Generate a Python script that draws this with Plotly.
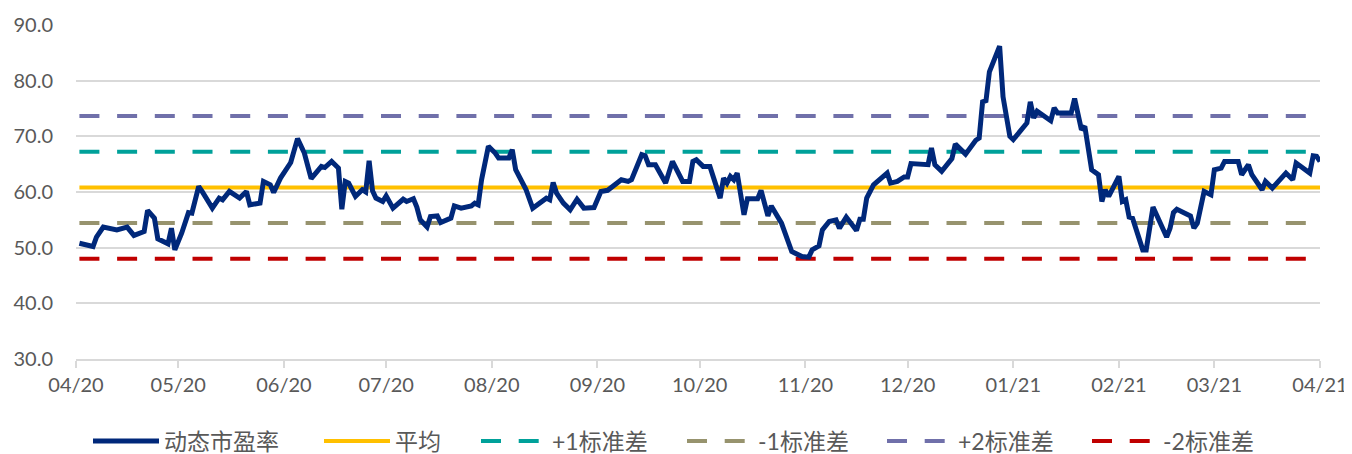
import plotly.graph_objects as go

# 动态市盈率 (dynamic P/E)
dates = [
    "2020-04-02", "2020-04-06", "2020-04-07", "2020-04-09", "2020-04-13", "2020-04-16",
    "2020-04-18", "2020-04-21", "2020-04-22", "2020-04-24", "2020-04-25", "2020-04-28",
    "2020-04-29", "2020-04-30", "2020-05-02", "2020-05-04", "2020-05-05", "2020-05-07",
    "2020-05-08", "2020-05-11", "2020-05-13", "2020-05-14", "2020-05-16", "2020-05-19",
    "2020-05-21", "2020-05-22", "2020-05-25", "2020-05-26", "2020-05-28", "2020-05-29",
    "2020-05-31", "2020-06-02", "2020-06-03", "2020-06-05", "2020-06-07", "2020-06-09",
    "2020-06-12", "2020-06-13", "2020-06-15", "2020-06-17", "2020-06-18", "2020-06-19",
    "2020-06-20", "2020-06-22", "2020-06-24", "2020-06-25", "2020-06-26", "2020-06-27",
    "2020-06-28", "2020-06-30", "2020-07-01", "2020-07-03", "2020-07-04", "2020-07-06",
    "2020-07-07", "2020-07-09", "2020-07-10", "2020-07-11", "2020-07-13", "2020-07-14",
    "2020-07-16", "2020-07-17", "2020-07-20", "2020-07-21", "2020-07-23", "2020-07-26",
    "2020-07-27", "2020-07-28", "2020-07-29", "2020-07-31", "2020-08-02", "2020-08-03",
    "2020-08-06", "2020-08-07", "2020-08-08", "2020-08-09", "2020-08-11", "2020-08-13",
    "2020-08-17", "2020-08-18", "2020-08-19", "2020-08-20", "2020-08-22", "2020-08-24",
    "2020-08-26", "2020-08-28", "2020-08-31", "2020-09-02", "2020-09-04", "2020-09-08",
    "2020-09-10", "2020-09-11", "2020-09-14", "2020-09-15", "2020-09-16", "2020-09-18",
    "2020-09-21", "2020-09-23", "2020-09-26", "2020-09-28", "2020-09-29", "2020-09-30",
    "2020-10-02", "2020-10-04", "2020-10-05", "2020-10-07", "2020-10-08", "2020-10-09",
    "2020-10-10", "2020-10-11", "2020-10-12", "2020-10-14", "2020-10-15", "2020-10-18",
    "2020-10-19", "2020-10-21", "2020-10-22", "2020-10-25", "2020-10-28", "2020-10-31",
    "2020-11-02", "2020-11-03", "2020-11-05", "2020-11-06", "2020-11-08", "2020-11-10",
    "2020-11-11", "2020-11-13", "2020-11-16", "2020-11-17", "2020-11-18", "2020-11-19",
    "2020-11-21", "2020-11-25", "2020-11-26", "2020-11-28", "2020-11-30", "2020-12-01",
    "2020-12-02", "2020-12-07", "2020-12-08", "2020-12-09", "2020-12-11", "2020-12-14",
    "2020-12-15", "2020-12-18", "2020-12-21", "2020-12-22", "2020-12-23", "2020-12-24",
    "2020-12-25", "2020-12-28", "2020-12-29", "2020-12-31", "2021-01-01", "2021-01-04",
    "2021-01-05", "2021-01-06", "2021-01-07", "2021-01-08", "2021-01-12", "2021-01-13",
    "2021-01-14", "2021-01-18", "2021-01-19", "2021-01-21", "2021-01-22", "2021-01-24",
    "2021-01-26", "2021-01-27", "2021-01-28", "2021-01-29", "2021-02-01", "2021-02-02",
    "2021-02-03", "2021-02-04", "2021-02-05", "2021-02-08", "2021-02-09", "2021-02-11",
    "2021-02-15", "2021-02-16", "2021-02-17", "2021-02-18", "2021-02-22", "2021-02-23",
    "2021-02-24", "2021-02-26", "2021-02-28", "2021-03-01", "2021-03-03", "2021-03-04",
    "2021-03-08", "2021-03-09", "2021-03-11", "2021-03-12", "2021-03-15", "2021-03-16",
    "2021-03-18", "2021-03-22", "2021-03-24", "2021-03-25", "2021-03-29", "2021-03-30",
    "2021-03-31", "2021-04-01",
]
pe = [
    50.8, 50.2, 51.9, 53.7, 53.2, 53.7,
    52.2, 52.9, 56.7, 55.3, 51.6, 50.7,
    53.5, 49.6, 52.6, 56.3, 56.2, 61.0,
    60.1, 57.1, 58.9, 58.6, 60.1, 58.9,
    60.1, 57.7, 58.0, 61.9, 61.3, 59.9,
    62.5, 64.6, 65.3, 69.6, 67.0, 62.4,
    64.6, 64.4, 65.5, 64.3, 56.9, 61.9,
    61.6, 59.2, 60.4, 60.0, 65.6, 60.2,
    58.9, 58.3, 59.3, 57.1, 57.7, 58.7,
    58.3, 58.8, 57.3, 55.0, 53.7, 55.6,
    55.7, 54.5, 55.3, 57.5, 57.1, 57.5,
    58.0, 57.7, 62.2, 68.2, 67.0, 66.1,
    66.1, 67.6, 64.0, 62.8, 60.5, 57.1,
    58.9, 58.6, 61.7, 59.8, 58.0, 56.8,
    58.7, 57.1, 57.2, 60.1, 60.3, 62.2,
    61.9, 62.2, 66.7, 66.5, 64.9, 64.9,
    61.6, 65.5, 61.9, 61.9, 65.5, 65.8,
    64.6, 64.6, 62.5, 58.9, 62.5, 61.6,
    62.8, 62.2, 63.4, 55.9, 58.8, 58.8,
    60.3, 55.7, 57.5, 54.4, 49.3, 48.4,
    48.3, 49.6, 50.3, 53.2, 54.7, 55.0,
    53.5, 55.5, 53.1, 55.1, 55.1, 58.9,
    61.3, 63.4, 61.6, 61.9, 62.7, 62.7,
    65.1, 64.9, 67.9, 64.9, 63.7, 66.0,
    68.6, 66.8, 69.3, 69.7, 76.2, 76.4,
    81.6, 86.2, 77.1, 70.0, 69.4, 71.8,
    72.4, 76.2, 73.3, 74.5, 72.8, 75.1,
    74.2, 74.2, 76.8, 71.2, 71.8, 64.0,
    63.1, 58.3, 60.4, 59.2, 62.8, 58.3,
    58.6, 55.5, 55.3, 49.6, 49.6, 57.3,
    51.9, 53.5, 56.3, 56.9, 55.7, 53.5,
    54.4, 60.1, 59.5, 64.0, 64.3, 65.5,
    65.5, 63.1, 64.9, 63.1, 60.4, 61.9,
    60.7, 63.4, 62.2, 65.2, 63.4, 66.5,
    66.4, 65.5,
]

mean_pe = 60.83
sd_pe = 6.42

band_names = ["平均", "+1标准差", "-1标准差", "+2标准差", "-2标准差"]
band_levels = [mean_pe, mean_pe + sd_pe, mean_pe - sd_pe, mean_pe + 2 * sd_pe, mean_pe - 2 * sd_pe]
band_colors = ["#FFC000", "#00A19A", "#97936E", "#7070AA", "#C00000"]
band_dash = ["solid", "20px,17.7px", "20px,17.7px", "20px,17.7px", "20px,17.7px"]

tick_vals = ["2020-04-01", "2020-05-01", "2020-06-01", "2020-07-01", "2020-08-01",
             "2020-09-01", "2020-10-01", "2020-11-01", "2020-12-01", "2021-01-01",
             "2021-02-01", "2021-03-01", "2021-04-01"]
tick_text = ["04/20", "05/20", "06/20", "07/20", "08/20", "09/20", "10/20",
             "11/20", "12/20", "01/21", "02/21", "03/21", "04/21"]

_TEXT = "#595959"
_GRID = "#D9D9D9"
_FONT = "Lato, 'Noto Sans CJK SC', sans-serif"

# the page body has an 8px margin: figure is placed at (8, 8)
_W, _H = 1344, 446
_L, _R, _T, _B = 68, 32, 17, 95
_PW = _W - _L - _R

# legend entry start (px, page coords) for each series, one small legend each
_LEG_X = [94, 325, 482, 688, 888, 1093]

fig = go.Figure()

for k, (name, lvl, col, dash) in enumerate(zip(band_names, band_levels, band_colors, band_dash)):
    fig.add_trace(go.Scatter(
        x=[dates[0], dates[-1]], y=[lvl, lvl], mode="lines", name=name,
        line=dict(color=col, width=4, dash=dash),
        legend="legend%d" % (k + 2),
    ))

# P/E line last so it sits on top of the bands
fig.add_trace(go.Scatter(
    x=dates, y=pe, mode="lines", name="动态市盈率",
    line=dict(color="#00287A", width=5), legend="legend",
))

legends = {}
for k, px in enumerate(_LEG_X):
    key = "legend" if k == 0 else "legend%d" % (k + 1)
    legends[key] = dict(
        orientation="h", x=(px - 8 - 6 - _L) / _PW, xanchor="left",
        y=-0.2455, yanchor="middle", itemwidth=66,
        bgcolor="rgba(0,0,0,0)", font=dict(size=23, color=_TEXT),
    )

fig.update_layout(
    width=_W, height=_H,
    paper_bgcolor="white", plot_bgcolor="white",
    margin=dict(l=_L, r=_R, t=_T, b=_B, autoexpand=False),
    font=dict(family=_FONT, size=19, color=_TEXT),
    showlegend=True,
    xaxis=dict(
        type="date", range=["2020-04-01", "2021-04-01"],
        tickvals=tick_vals, ticktext=tick_text,
        showgrid=False, showline=True, linecolor=_GRID, linewidth=1.5,
        ticks="outside", ticklen=7, tickcolor=_GRID, tickwidth=1.5,
        tickfont=dict(size=20, color=_TEXT), zeroline=False,
    ),
    yaxis=dict(
        range=[30, 90], dtick=10, tickformat=".1f",
        showgrid=True, gridcolor=_GRID, gridwidth=1.5,
        showline=False, zeroline=False, ticks="",
        ticklabelstandoff=22, tickfont=dict(size=20, color=_TEXT),
    ),
    **legends,
)

fig.write_html("out.html")
